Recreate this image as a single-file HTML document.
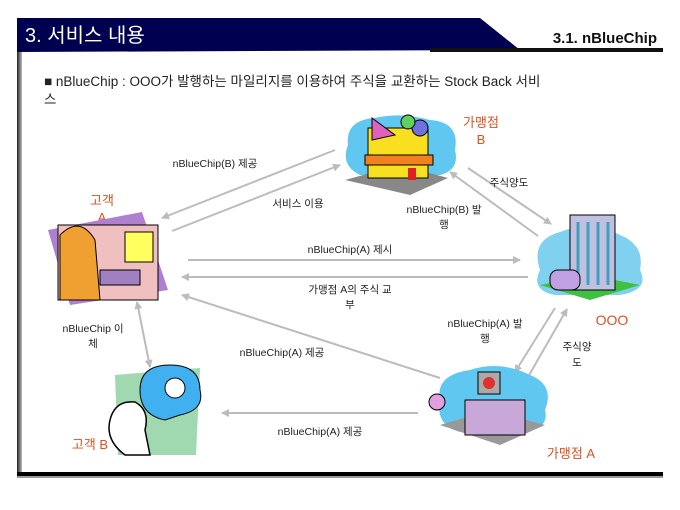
<!DOCTYPE html>
<html><head><meta charset="utf-8"><style>
html,body{margin:0;padding:0;background:#fff;}
svg{display:block;}
text{font-family:"Liberation Sans","Noto Sans CJK KR",sans-serif;}
</style></head><body>
<svg width="680" height="510" viewBox="0 0 680 510" xmlns="http://www.w3.org/2000/svg">
<defs>
<marker id="ah" markerWidth="8" markerHeight="8" refX="7" refY="4" orient="auto" markerUnits="userSpaceOnUse">
<path d="M0,0 L8,4 L0,8 z" fill="#bcbcbc"/></marker>
<marker id="as" markerWidth="8" markerHeight="8" refX="1" refY="4" orient="auto" markerUnits="userSpaceOnUse">
<path d="M8,0 L0,4 L8,8 z" fill="#bcbcbc"/></marker>
<linearGradient id="lg" x1="0" x2="1"><stop offset="0" stop-color="#222"/><stop offset="1" stop-color="#bbb"/></linearGradient>
</defs>
<!-- header -->
<path d="M17,18 L480,18 L520,50 L17,52 z" fill="#000050"/>
<rect x="430" y="48" width="233" height="4" fill="#111"/>
<rect x="17" y="52" width="5" height="422" fill="url(#lg)"/>
<text x="25" y="42" font-size="20" fill="#fff">3. 서비스 내용</text>
<text x="657" y="43" font-size="15" font-weight="bold" fill="#111" text-anchor="end">3.1. nBlueChip</text>
<text x="44" y="86" font-size="13.5" fill="#222">■ nBlueChip : OOO가 발행하는 마일리지를 이용하여 주식을 교환하는 Stock Back 서비</text>
<text x="44" y="104" font-size="13.5" fill="#222">스</text>
<rect x="17" y="472" width="646" height="4" fill="#000"/>
<rect x="17" y="476" width="646" height="2" fill="#999"/>

<!-- arrows -->
<g stroke="#bcbcbc" stroke-width="2" fill="none">
<line x1="335" y1="150" x2="162" y2="218" marker-end="url(#ah)"/>
<line x1="172" y1="231" x2="340" y2="165" marker-end="url(#ah)"/>
<line x1="468" y1="168" x2="551" y2="224" marker-end="url(#ah)"/>
<line x1="538" y1="236" x2="450" y2="172" marker-end="url(#ah)"/>
<line x1="188" y1="260" x2="520" y2="260" marker-end="url(#ah)"/>
<line x1="528" y1="277" x2="182" y2="277" marker-end="url(#ah)"/>
<line x1="440" y1="378" x2="182" y2="295" marker-end="url(#ah)"/>
<line x1="137" y1="302" x2="150" y2="367" marker-end="url(#ah)" marker-start="url(#as)"/>
<line x1="555" y1="308" x2="515" y2="372" marker-end="url(#ah)"/>
<line x1="528" y1="377" x2="567" y2="309" marker-end="url(#ah)"/>
<line x1="418" y1="413" x2="222" y2="413" marker-end="url(#ah)"/>
</g>

<!-- labels -->
<g font-size="10.5" fill="#222" text-anchor="middle">
<text x="215" y="167">nBlueChip(B) 제공</text>
<text x="298" y="207">서비스 이용</text>
<text x="509" y="186">주식양도</text>
<text x="444" y="213">nBlueChip(B) 발</text>
<text x="444" y="228">행</text>
<text x="350" y="253">nBlueChip(A) 제시</text>
<text x="350" y="293">가맹점 A의 주식 교</text>
<text x="350" y="308">부</text>
<text x="93" y="332">nBlueChip 이</text>
<text x="93" y="347">체</text>
<text x="282" y="356">nBlueChip(A) 제공</text>
<text x="485" y="327">nBlueChip(A) 발</text>
<text x="485" y="342">행</text>
<text x="577" y="350">주식양</text>
<text x="577" y="366">도</text>
<text x="320" y="435">nBlueChip(A) 제공</text>
</g>
<g font-size="13" fill="#e05020" text-anchor="middle">
<text x="102" y="205">고객</text><text x="102" y="222">A</text>
<text x="481" y="127">가맹점</text><text x="481" y="144">B</text>
<text x="612" y="325" font-size="14">OOO</text>
<text x="90" y="449">고객 B</text>
<text x="571" y="458">가맹점 A</text>
</g>

<!-- clip art: customer A -->
<polygon points="48,230 142,212 168,290 70,305" fill="#b080d0"/>
<rect x="58" y="225" width="100" height="75" fill="#f0c0c0" stroke="#000"/>
<path d="M60,235 Q80,215 95,240 L100,300 L60,300 z" fill="#f0a030" stroke="#000"/>
<rect x="125" y="232" width="28" height="30" fill="#ffff60" stroke="#000"/>
<rect x="100" y="270" width="40" height="15" fill="#a080c0" stroke="#000"/>
<!-- store B -->
<path d="M348,145 Q345,120 375,118 Q400,112 430,120 Q460,122 455,150 Q460,170 440,175 L360,175 Q340,165 348,145z" fill="#60c8f0"/>
<polygon points="345,180 410,195 448,178 400,165" fill="#888"/>
<rect x="368" y="128" width="60" height="50" fill="#f8e020" stroke="#000"/>
<rect x="365" y="155" width="68" height="10" fill="#f08020" stroke="#000"/>
<polygon points="372,118 395,135 372,140" fill="#e060c0" stroke="#000"/>
<circle cx="420" cy="128" r="8" fill="#7070e0" stroke="#000"/>
<circle cx="408" cy="122" r="7" fill="#60d060" stroke="#000"/>
<rect x="408" y="168" width="8" height="12" fill="#e02020"/>
<!-- building OOO -->
<path d="M540,270 Q530,240 560,232 Q590,220 620,235 Q645,245 640,270 Q650,290 620,295 L555,295 Q530,290 540,270z" fill="#80d0f0"/>
<polygon points="540,285 590,300 640,285 590,275" fill="#40c040"/>
<rect x="570" y="215" width="45" height="75" fill="#c0c0e0" stroke="#000"/>
<g stroke="#40a0c0" stroke-width="3"><line x1="578" y1="222" x2="578" y2="285"/><line x1="588" y1="222" x2="588" y2="285"/><line x1="598" y1="222" x2="598" y2="285"/><line x1="608" y1="222" x2="608" y2="285"/></g>
<rect x="550" y="270" width="30" height="20" rx="8" fill="#c0a0e0" stroke="#000"/>
<!-- customer B -->
<polygon points="115,375 200,368 196,455 118,455" fill="#a0d8b0"/>
<path d="M140,390 Q140,365 170,365 Q200,365 200,390 Q205,410 180,415 L165,420 Q140,415 140,390z" fill="#40b0f0" stroke="#000"/>
<circle cx="175" cy="388" r="10" fill="#fff" stroke="#000"/>
<path d="M110,420 Q115,400 135,402 Q150,410 145,430 L150,455 L125,455 Q105,440 110,420z" fill="#fff" stroke="#000" stroke-width="1.5"/>
<!-- store A -->
<path d="M440,400 Q435,375 470,370 Q500,360 530,375 Q555,385 545,410 Q550,430 520,432 L460,432 Q435,425 440,400z" fill="#60c8f0"/>
<polygon points="440,425 500,445 545,425 490,410" fill="#999"/>
<rect x="465" y="400" width="60" height="35" fill="#c8a8d8" stroke="#000"/>
<rect x="478" y="372" width="22" height="22" fill="#aaa" stroke="#000"/>
<circle cx="489" cy="383" r="6" fill="#e03030"/>
<circle cx="437" cy="402" r="8" fill="#e0a0e0" stroke="#000"/>
</svg>
</body></html>
